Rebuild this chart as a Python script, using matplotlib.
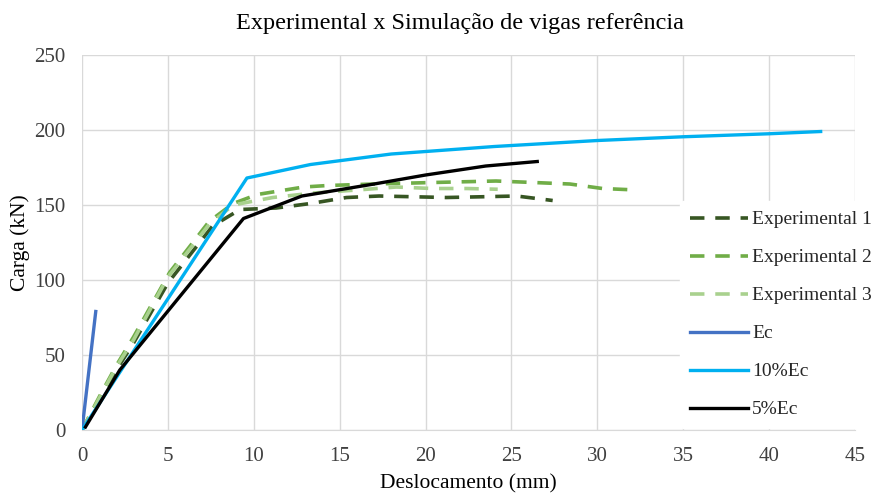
import matplotlib.pyplot as plt

plt.rcParams['font.family'] = ['Liberation Serif', 'DejaVu Serif']

# Data (displacement mm, load kN)
exp1_x = [0, 1, 2, 3, 5, 7.6, 9.2, 11.3, 13.3, 15.4, 17.3, 19.3, 21.2, 23.3, 25.3, 27.4]
exp1_y = [0, 20, 40, 58, 98, 136, 147, 148, 151, 155, 156, 155.5, 155, 155.5, 156, 153]
exp2_x = [0, 1, 2, 3, 5.1, 7.4, 8.8, 10.2, 12.9, 14.3, 17.0, 20.4, 24.1, 26.3, 28.4, 30.3, 32.3]
exp2_y = [0, 22, 43, 62, 105, 139, 151, 157, 162, 163, 164, 165, 166, 165, 164, 161, 160]
exp3_x = [0, 1, 2, 3, 5, 7.4, 8.8, 11.1, 13.5, 16.0, 18.3, 20.4, 22.4, 24.2]
exp3_y = [0, 21, 42, 60, 102, 137, 150, 155, 158, 160, 162, 161, 161, 160.5]
ec_x = [0, 0.8]
ec_y = [0, 79]
ec10_x = [0, 9.6, 13.3, 18, 24, 30, 35, 40, 43]
ec10_y = [0, 168, 177, 184, 189, 193, 195.5, 197.5, 199]
ec5_x = [0.2, 2.2, 9.4, 12.8, 17, 20, 23.5, 26.5]
ec5_y = [2, 40, 141, 156, 164, 170, 176, 179]

fig = plt.figure(figsize=(8.79, 4.93), dpi=100)
ax = fig.add_axes([0.0933, 0.1278, 0.8794, 0.7606])

dash = (0, (4, 3))
ax.plot(exp1_x, exp1_y, color='#375623', lw=2.6, ls=dash, label='Experimental 1', zorder=3)
ax.plot(exp2_x, exp2_y, color='#70AD47', lw=2.6, ls=dash, label='Experimental 2', zorder=3)
ax.plot(exp3_x, exp3_y, color='#A9D18E', lw=2.6, ls=dash, label='Experimental 3', zorder=3)
ax.plot(ec_x, ec_y, color='#4472C4', lw=2.4, label='Ec', zorder=4)
ax.plot(ec10_x, ec10_y, color='#00B0F0', lw=2.4, label='10%Ec', zorder=4)
ax.plot(ec5_x, ec5_y, color='#000000', lw=2.4, label='5%Ec', zorder=4)

ax.set_xlim(0, 45)
ax.set_ylim(0, 250)
ax.set_xticks(range(0, 50, 5))
ax.set_yticks(range(0, 300, 50))
ax.grid(True, color='#D9D9D9', lw=1)
ax.set_axisbelow(True)
for s in ['top', 'right', 'left']:
    ax.spines[s].set_visible(False)
ax.spines['bottom'].set_color('#D9D9D9')
ax.tick_params(length=0, labelsize=15, colors='#404040')
ax.tick_params(axis='x', pad=12)
ax.tick_params(axis='y', pad=12)

ax.set_xlabel('Deslocamento (mm)', fontsize=15.5, color='#000000', labelpad=6)
ax.set_ylabel('Carga (kN)', fontsize=15.5, color='#000000', labelpad=3)
fig.text(0.523, 1 - 24 / 493, 'Experimental x Simulação de vigas referência',
         fontsize=17.5, ha='center', va='center')

leg = ax.legend(loc='upper left', bbox_to_anchor=(0.7737, 0.5923), bbox_transform=fig.transFigure,
                frameon=True, facecolor='white', edgecolor='white', framealpha=1,
                fontsize=14, handlelength=3.0, handletextpad=0.2, labelspacing=1.05,
                borderpad=0.5, borderaxespad=0)
for t in leg.get_texts():
    t.set_color('#262626')

fig.savefig('out.png', dpi=100)
